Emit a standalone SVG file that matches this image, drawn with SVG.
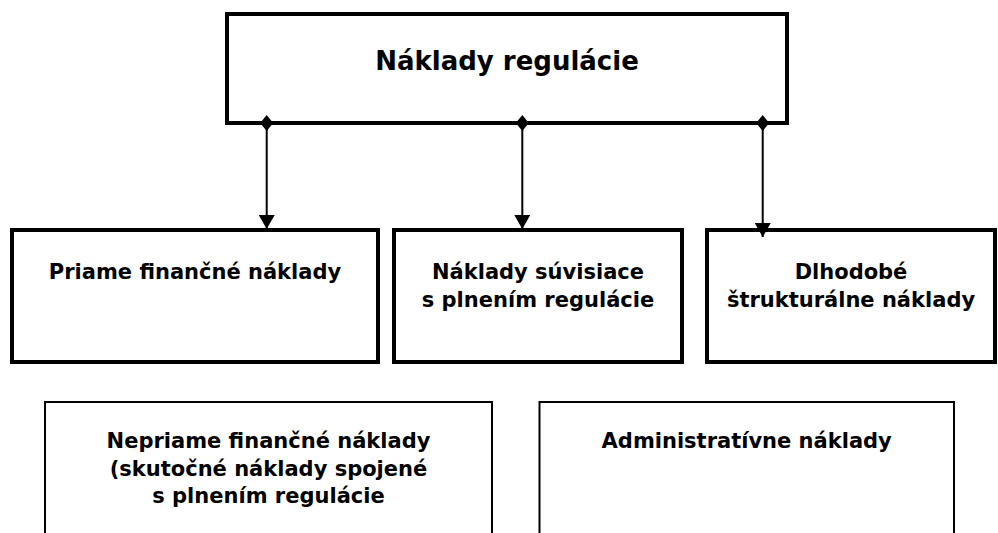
<svg xmlns="http://www.w3.org/2000/svg" width="998" height="533" viewBox="0 0 998 533">
<style>
.box{fill:#fff;stroke:#000;stroke-width:4}
.thin{fill:#fff;stroke:#000;stroke-width:2}
.t{font-family:"DejaVu Sans","Verdana",sans-serif;font-weight:bold;font-size:21px;text-anchor:middle;fill:#000}
.big{font-size:26px}
.conn{stroke:#000;stroke-width:2;fill:none}
</style>
<defs>
<marker id="arrow" viewBox="0 0 14 16" refX="14" refY="8" markerWidth="14" markerHeight="16" markerUnits="userSpaceOnUse" orient="auto">
<path d="M0,0 L14,8 L0,16 z" fill="#000"/>
</marker>
<marker id="dia" viewBox="0 0 16 13" refX="8" refY="6.5" markerWidth="16" markerHeight="13" markerUnits="userSpaceOnUse" orient="auto">
<path d="M0,6.5 L8,0 L16,6.5 L8,13 z" fill="#000"/>
</marker>
</defs>
<rect width="998" height="533" fill="#fff"/>
<g id="root">
<rect class="box" x="227" y="14" width="560" height="109"/>
<text class="t big" x="507" y="70">Náklady regulácie</text>
</g>
<g id="n1">
<rect class="box" x="12" y="230" width="366" height="132"/>
<text class="t" x="195" y="279">Priame finančné náklady</text>
</g>
<g id="n2">
<rect class="box" x="394" y="230" width="288" height="132"/>
<text class="t" x="538" y="279">Náklady súvisiace</text>
<text class="t" x="538" y="307">s plnením regulácie</text>
</g>
<g id="n3">
<rect class="box" x="707" y="230" width="288" height="132"/>
<text class="t" x="851" y="279">Dlhodobé</text>
<text class="t" x="851" y="307">štrukturálne náklady</text>
</g>
<g id="n4">
<rect class="thin" x="45" y="402" width="447" height="145"/>
<text class="t" x="268.5" y="448">Nepriame finančné náklady</text>
<text class="t" x="268.5" y="476">(skutočné náklady spojené</text>
<text class="t" x="268.5" y="503">s plnením regulácie</text>
</g>
<g id="n5">
<rect class="thin" x="539.5" y="402" width="414.5" height="145"/>
<text class="t" x="746.7" y="448">Administratívne náklady</text>
</g>
<g id="connectors">
<line class="conn" x1="266.7" y1="123" x2="266.7" y2="229" marker-start="url(#dia)" marker-end="url(#arrow)"/>
<line class="conn" x1="522.3" y1="123" x2="522.3" y2="229" marker-start="url(#dia)" marker-end="url(#arrow)"/>
<line class="conn" x1="762.7" y1="123" x2="762.7" y2="237" marker-start="url(#dia)" marker-end="url(#arrow)"/>
</g>
</svg>
